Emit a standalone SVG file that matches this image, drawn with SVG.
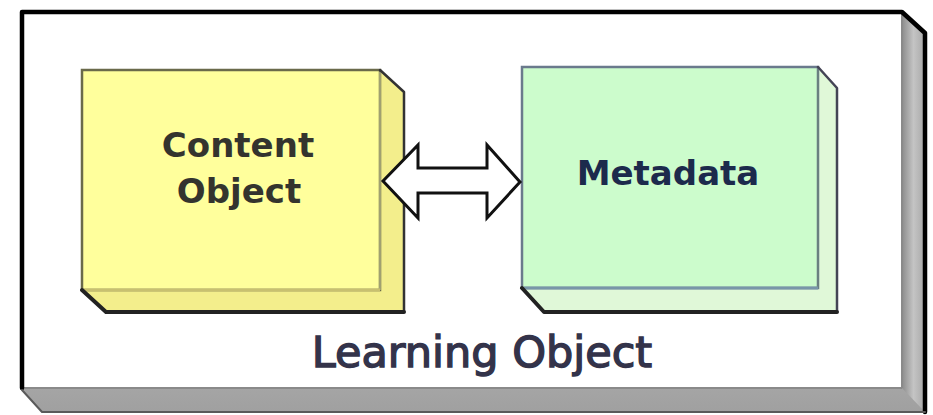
<svg xmlns="http://www.w3.org/2000/svg" width="933" height="415" viewBox="0 0 933 415">
  <defs>
    <linearGradient id="outerSide" x1="0" y1="0" x2="1" y2="0">
      <stop offset="0" stop-color="#8c8c8c"/>
      <stop offset="0.5" stop-color="#c4c4c4"/>
      <stop offset="1" stop-color="#a8a8a8"/>
    </linearGradient>
    <linearGradient id="outerBottom" x1="0" y1="0" x2="0" y2="1">
      <stop offset="0" stop-color="#9a9a9a"/>
      <stop offset="0.5" stop-color="#c8c8c8"/>
      <stop offset="1" stop-color="#a0a0a0"/>
    </linearGradient>
  </defs>
  <style>
    .lbl { font-family: "DejaVu Sans", Verdana, sans-serif; font-weight: bold; font-size: 34px; text-anchor: middle; }
    .edge { fill: none; stroke-linejoin: round; stroke-linecap: round; }
  </style>
  <rect width="933" height="415" fill="#ffffff"/>

  <g id="learning-object">
    <polygon points="902,12 925,33 925,412 42,412 22,390 22,388 902,388" fill="url(#outerBottom)"/>
    <polygon points="902,12 925,33 925,412 902,388" fill="url(#outerSide)"/>
    <rect x="22" y="12" width="880" height="376" fill="#ffffff"/>
    <line x1="902" y1="14" x2="902" y2="388" stroke="#8a8a8a" stroke-width="2"/>
    <line x1="24" y1="388" x2="902" y2="388" stroke="#8a8a8a" stroke-width="2"/>
    <polyline class="edge" points="22,388 22,12 902,12 925,33 925,412" stroke="#000" stroke-width="4.5"/>
    <polyline class="edge" points="22,390 42,412 925,412" stroke="#5a5a5a" stroke-width="2"/>
    <text x="482" y="367" font-family="'DejaVu Sans', Verdana, sans-serif" font-size="43" text-anchor="middle" fill="#33334a" stroke="#33334a" stroke-width="1.4">Learning Object</text>
  </g>

  <g id="content-object">
    <polygon points="380,70 404,92 404,312 106,312 82,290 380,290" fill="#f3ee8c"/>
    <rect x="82" y="70" width="298" height="220" fill="#ffff9c" stroke="#6a6a4a" stroke-width="2.5"/>
    <line x1="380" y1="72" x2="380" y2="290" stroke="#a0a070" stroke-width="2"/>
    <line x1="84" y1="290" x2="380" y2="290" stroke="#c8c070" stroke-width="3"/>
    <polyline class="edge" points="380,70 404,92 404,312" stroke="#333" stroke-width="2.5"/>
    <polyline class="edge" points="82,290 106,312 404,312" stroke="#222" stroke-width="4"/>
    <text class="lbl" x="238" y="157" fill="#34342e">Content</text>
    <text class="lbl" x="239" y="203" fill="#34342e">Object</text>
  </g>

  <g id="metadata">
    <polygon points="818,67 837,88 837,312 544,312 522,288 818,288" fill="#e0f8d8"/>
    <rect x="522" y="67" width="296" height="221" fill="#ccfccc" stroke="#6a7a8c" stroke-width="2.5"/>
    <line x1="818" y1="69" x2="818" y2="288" stroke="#6a8080" stroke-width="2"/>
    <line x1="524" y1="288" x2="818" y2="288" stroke="#7896a8" stroke-width="3"/>
    <polyline class="edge" points="818,67 837,88 837,312" stroke="#445" stroke-width="2.5"/>
    <polyline class="edge" points="522,288 544,312 837,312" stroke="#222" stroke-width="4"/>
    <text class="lbl" x="668" y="185" fill="#1c2a4c">Metadata</text>
  </g>

  <g id="connectors">
    <polygon points="383,181 418,145 418,168 487,168 487,145 520,182 487,218 487,193 418,193 418,218" fill="#ffffff" stroke="#111" stroke-width="3" stroke-linejoin="miter"/>
  </g>
</svg>
